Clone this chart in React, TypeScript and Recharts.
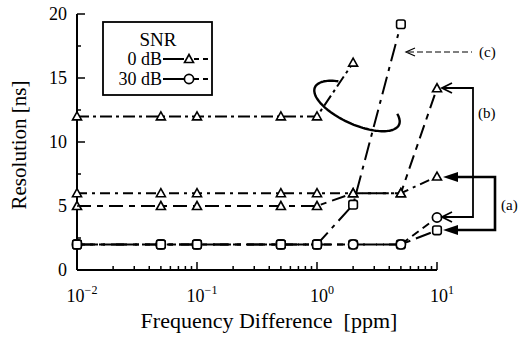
import React from "react";
import { LineChart, Line, XAxis, YAxis, Legend } from "recharts";

const FONT = '"Liberation Serif", "Times New Roman", serif';

// frequency difference [ppm] at which the runs were taken
const FREQ = [0.01, 0.05, 0.1, 0.5, 1, 2, 5, 10];

// resolution [ns]
const SNR0_TOP = [12, 12, 12, 12, 12, 16.2];
const SNR0_A = [6, 6, 6, 6, 6, 6, 6, 7.3];
const SNR0_B = [5, 5, 5, 5, 5, 6, 6, 14.2];
const SNR30_A = [2, 2, 2, 2, 2, 2, 2, 3.1];
const SNR30_B = [2, 2, 2, 2, 2, 2, 2, 4.1];
const SNR30_C = [2, 2, 2, 2, 2, 5.1, 19.2];

const X_MAJOR = [0.01, 0.1, 1, 10];
const X_TICKS = [
  0.01, 0.02, 0.03, 0.04, 0.05, 0.06, 0.07, 0.08, 0.09,
  0.1, 0.2, 0.3, 0.4, 0.5, 0.6, 0.7, 0.8, 0.9,
  1, 2, 3, 4, 5, 6, 7, 8, 9, 10,
];
const Y_MAJOR = [0, 5, 10, 15, 20];
const Y_TICKS = [0, 2.5, 5, 7.5, 10, 12.5, 15, 17.5, 20];

const pts = (ys: number[]) => ys.map((y, i) => ({ x: FREQ[i], y }));

const Tri = ({ cx, cy }: any) => (
  <path d={`M${cx},${cy - 4.5} L${cx + 4.5},${cy + 3.5} L${cx - 4.5},${cy + 3.5} Z`} fill="#fff" stroke="#000" strokeWidth={1.6} />
);
const Circ = ({ cx, cy }: any) => <circle cx={cx} cy={cy} r={4.6} fill="#fff" stroke="#000" strokeWidth={1.7} />;
const Sq = ({ cx, cy }: any) => (
  <rect x={cx - 4.3} y={cy - 4.3} width={8.6} height={8.6} rx={2} fill="#fff" stroke="#000" strokeWidth={1.6} />
);

const dotOf = (Shape: any) => (p: any) => <Shape key={p.index} cx={p.cx} cy={p.cy} />;

function BottomTick({ x, y, payload }: any) {
  const major = X_MAJOR.includes(payload.value);
  const e = String(Math.round(Math.log10(payload.value))).replace("-", "\u2212");
  return (
    <g>
      <line x1={x} x2={x} y1={y} y2={y - (major ? 8 : 4)} stroke="#000" strokeWidth={1.5} />
      {major && (
        <text x={x + 5} y={y + 32} textAnchor="middle" fontSize={18} fontFamily={FONT} fill="#000">
          10<tspan dy={-8} fontSize={12}>{e}</tspan>
        </text>
      )}
    </g>
  );
}

function TopTick({ x, y, payload }: any) {
  const major = X_MAJOR.includes(payload.value);
  return <line x1={x} x2={x} y1={y} y2={y + (major ? 8 : 4)} stroke="#000" strokeWidth={1.5} />;
}

function LeftTick({ x, y, payload }: any) {
  const major = Y_MAJOR.includes(payload.value);
  return (
    <g>
      <line x1={x} x2={x + (major ? 8 : 4)} y1={y} y2={y} stroke="#000" strokeWidth={1.5} />
      {major && (
        <text x={x - 10} y={y + 6} textAnchor="end" fontSize={18} fontFamily={FONT} fill="#000">
          {payload.value}
        </text>
      )}
    </g>
  );
}

function RightTick({ x, y, payload }: any) {
  const major = Y_MAJOR.includes(payload.value);
  return <line x1={x} x2={x - (major ? 8 : 4)} y1={y} y2={y} stroke="#000" strokeWidth={1.5} />;
}

function LegendBox() {
  return (
    <svg width={112} height={76} style={{ display: "block" }}>
      <rect x={1} y={1} width={109} height={73} fill="#fff" stroke="#000" strokeWidth={1.8} />
      <text x={56} y={25} textAnchor="middle" fontSize={19} fontFamily={FONT}>SNR</text>
      <text x={60} y={44} textAnchor="end" fontSize={18} fontFamily={FONT}>0 dB</text>
      <text x={60} y={64} textAnchor="end" fontSize={18} fontFamily={FONT}>30 dB</text>
      <line x1={61} x2={82} y1={38} y2={38} stroke="#000" strokeWidth={2} />
      <line x1={92} x2={109} y1={38} y2={38} stroke="#000" strokeWidth={2} strokeDasharray="5 4" />
      <Tri cx={87} cy={38} />
      <line x1={61} x2={82} y1={58} y2={58} stroke="#000" strokeWidth={2} />
      <line x1={92} x2={109} y1={58} y2={58} stroke="#000" strokeWidth={2} strokeDasharray="5 4" />
      <Circ cx={87} cy={58} />
    </svg>
  );
}

function Annotations() {
  const cx = 357, cy = 106, rx = 46, ry = 18.5, phi = (24 * Math.PI) / 180;
  const arc: string[] = [];
  for (let t = -30; t <= 234; t += 3) {
    const a = (t * Math.PI) / 180;
    const u = rx * Math.cos(a), v = ry * Math.sin(a);
    const px = cx + u * Math.cos(phi) - v * Math.sin(phi);
    const py = cy + u * Math.sin(phi) + v * Math.cos(phi);
    arc.push(`${arc.length ? "L" : "M"}${px.toFixed(1)},${py.toFixed(1)}`);
  }
  const txt = { fontSize: 15, fontFamily: FONT, fill: "#000" } as const;
  return (
    <svg width={530} height={340} style={{ position: "absolute", left: 0, top: 0, pointerEvents: "none" }}>
      <path d={arc.join(" ")} fill="none" stroke="#000" strokeWidth={2.4} />
      {/* (c) */}
      <line x1={408} x2={472} y1={52} y2={52} stroke="#000" strokeWidth={1.2} strokeDasharray="6 3" />
      <path d="M415,48 L406,52 L415,56" fill="none" stroke="#000" strokeWidth={1.2} />
      <text x={479} y={57} {...txt}>(c)</text>
      {/* (b) */}
      <path d="M443,88 L473,88 L473,217 L443,217" fill="none" stroke="#000" strokeWidth={1.8} />
      <path d="M452,83 L442,88 L452,93" fill="none" stroke="#000" strokeWidth={1.8} />
      <path d="M452,212 L442,217 L452,222" fill="none" stroke="#000" strokeWidth={1.8} />
      <text x={478} y={118} {...txt}>(b)</text>
      {/* (a) */}
      <path d="M450,177 L495,177 L495,230 L450,230" fill="none" stroke="#000" strokeWidth={2.6} />
      <path d="M443,177 L458,172 L458,182 Z" fill="#000" />
      <path d="M443,230 L458,225 L458,235 Z" fill="#000" />
      <text x={501} y={210} {...txt}>(a)</text>
    </svg>
  );
}

const axisLine = { stroke: "#000", strokeWidth: 2 };

export default function App() {
  return (
    <div style={{ position: "absolute", left: 0, top: 0, width: 530, height: 340, background: "#fff" }}>
      <LineChart width={530} height={340} margin={{ top: 14, right: 93, bottom: 0, left: 0 }}>
        <XAxis
          type="number"
          dataKey="x"
          scale="log"
          domain={[0.01, 10]}
          ticks={X_TICKS}
          interval={0}
          tickSize={0}
          tickMargin={0}
          tickLine={false}
          height={70}
          axisLine={axisLine}
          tick={<BottomTick />}
          label={{
            content: ({ viewBox }: any) => (
              <text
                x={viewBox.x + viewBox.width / 2 + 12}
                y={viewBox.y + viewBox.height - 12}
                textAnchor="middle"
                fontSize={22}
                fontFamily={FONT}
                fill="#000"
                style={{ whiteSpace: "pre" }}
              >
                {"Frequency Difference  [ppm]"}
              </text>
            ),
          }}
        />
        <XAxis
          xAxisId="top"
          orientation="top"
          type="number"
          scale="log"
          domain={[0.01, 10]}
          ticks={X_TICKS}
          interval={0}
          tickSize={0}
          tickMargin={0}
          tickLine={false}
          height={0}
          axisLine={axisLine}
          tick={<TopTick />}
        />
        <YAxis
          type="number"
          domain={[0, 20]}
          ticks={Y_TICKS}
          interval={0}
          tickSize={0}
          tickMargin={0}
          tickLine={false}
          width={77}
          axisLine={axisLine}
          tick={<LeftTick />}
          label={{
            content: () => (
              <text
                x={26}
                y={145}
                transform="rotate(-90 26 145)"
                textAnchor="middle"
                fontSize={21}
                fontFamily={FONT}
                fill="#000"
              >
                Resolution [ns]
              </text>
            ),
          }}
        />
        <YAxis
          yAxisId="right"
          orientation="right"
          type="number"
          domain={[0, 20]}
          ticks={Y_TICKS}
          interval={0}
          tickSize={0}
          tickMargin={0}
          tickLine={false}
          width={0}
          axisLine={axisLine}
          tick={<RightTick />}
        />
        <Legend
          layout="horizontal"
          verticalAlign="middle"
          align="center"
          wrapperStyle={{ left: 102, top: 21, width: 112, height: 76 }}
          content={() => <LegendBox />}
        />
        <Line data={pts(SNR0_TOP)} dataKey="y" name="0 dB top" stroke="#000" strokeWidth={2} strokeDasharray="12 4 3 4" dot={dotOf(Tri)} isAnimationActive={false} />
        <Line data={pts(SNR0_A)} dataKey="y" name="0 dB (a)" stroke="#000" strokeWidth={2} strokeDasharray="10 5 3 5" dot={dotOf(Tri)} isAnimationActive={false} />
        <Line data={pts(SNR0_B)} dataKey="y" name="0 dB (b)" stroke="#000" strokeWidth={2} strokeDasharray="14 6 6 6" dot={dotOf(Tri)} isAnimationActive={false} />
        <Line data={pts(SNR30_A)} dataKey="y" name="30 dB (a)" stroke="#000" strokeWidth={2} strokeDasharray="16 6 6 6" dot={dotOf(Sq)} isAnimationActive={false} />
        <Line data={pts(SNR30_B)} dataKey="y" name="30 dB (b)" stroke="#000" strokeWidth={2} strokeDasharray="8 5" dot={dotOf(Circ)} isAnimationActive={false} />
        <Line data={pts(SNR30_C)} dataKey="y" name="30 dB (c)" stroke="#000" strokeWidth={2} strokeDasharray="18 6 4 6" dot={dotOf(Sq)} isAnimationActive={false} />
      </LineChart>
      <Annotations />
    </div>
  );
}
